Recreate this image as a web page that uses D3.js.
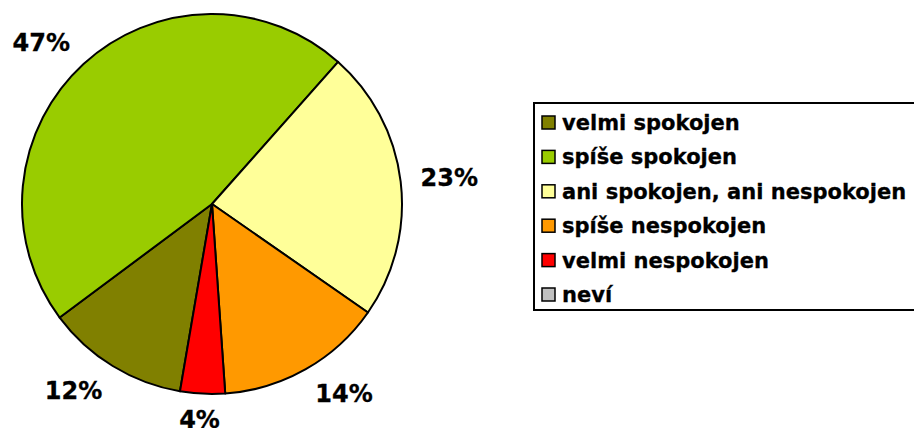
<!DOCTYPE html>
<html>
<head>
<meta charset="utf-8">
<script src="https://cdn.jsdelivr.net/npm/d3@7"></script>
<style>
  html, body { margin: 0; padding: 0; background: #fff; overflow: hidden; }
  svg { display: block; }
  text { font-family: "DejaVu Sans", Verdana, sans-serif; font-weight: bold; fill: #000; stroke: #000; stroke-width: 0.3; }
</style>
</head>
<body>
<svg id="chart" width="914" height="428"></svg>
<script>
// ==============================
// DATA
// ==============================
const categories = ["velmi spokojen", "spíše spokojen", "ani spokojen, ani nespokojen", "spíše nespokojen", "velmi nespokojen", "neví"];
const values = [12.1, 46.7, 23.1, 14.2, 3.8, 0];
const labels = ["12%", "47%", "23%", "14%", "4%", ""];
const colors = ["#808000", "#99CC00", "#FFFF99", "#FF9900", "#FF0000", "#C0C0C0"];

// ==============================
// LAYOUT
// ==============================
const width = 914, height = 428;
const cx = 212, cy = 204, radius = 190;
const labelRadius = 210;
const labelH = 18;
const startAngle = 189.7 * Math.PI / 180;

const svg = d3.select("#chart");

const pie = d3.pie()
    .value(d => d)
    .sort(null)
    .startAngle(startAngle)
    .endAngle(startAngle + 2 * Math.PI);

const arcs = pie(values);
const arc = d3.arc().innerRadius(0).outerRadius(radius);

const g = svg.append("g").attr("transform", `translate(${cx},${cy})`);

g.selectAll("path.slice")
    .data(arcs.filter(d => d.value > 0))
    .enter()
    .append("path")
    .attr("class", "slice")
    .attr("d", arc)
    .attr("fill", d => colors[d.index])
    .attr("stroke", "#000")
    .attr("stroke-width", 2)
    .attr("stroke-linejoin", "round");

// data labels: box placed just outside the rim, kept inside the chart area
g.selectAll("text.lbl")
    .data(arcs.filter(d => labels[d.index] !== ""))
    .enter()
    .append("text")
    .attr("class", "lbl")
    .attr("text-anchor", "middle")
    .attr("dominant-baseline", "central")
    .attr("font-size", 24)
    .text(d => labels[d.index])
    .each(function (d) {
        const a = (d.startAngle + d.endAngle) / 2;
        const s = Math.sin(a), c = -Math.cos(a);
        const w = this.getComputedTextLength();
        const x = labelRadius * s + (w / 2) * Math.max(-1, Math.min(1, s * 2));
        const y = labelRadius * c + (labelH / 2) * c;
        d3.select(this)
            .attr("x", x)
            .attr("y", Math.min(y, height - cy - 8));
    });

// ==============================
// LEGEND
// ==============================
const legendX = 534, legendY = 103, rowH = 34.4;

svg.append("rect")
    .attr("x", legendX)
    .attr("y", legendY)
    .attr("width", 400)
    .attr("height", 207)
    .attr("fill", "#fff")
    .attr("stroke", "#000")
    .attr("stroke-width", 2);

const rows = svg.selectAll("g.legend")
    .data(categories)
    .enter()
    .append("g")
    .attr("class", "legend")
    .attr("transform", (d, i) => `translate(${legendX + 8},${legendY + 20 + i * rowH})`);

rows.append("rect")
    .attr("x", 0)
    .attr("y", -7)
    .attr("width", 13)
    .attr("height", 13)
    .attr("fill", (d, i) => colors[i])
    .attr("stroke", "#000")
    .attr("stroke-width", 1.5);

rows.append("text")
    .attr("x", 20)
    .attr("y", 0)
    .attr("dominant-baseline", "central")
    .attr("font-size", 21)
    .text(d => d);
</script>
</body>
</html>
